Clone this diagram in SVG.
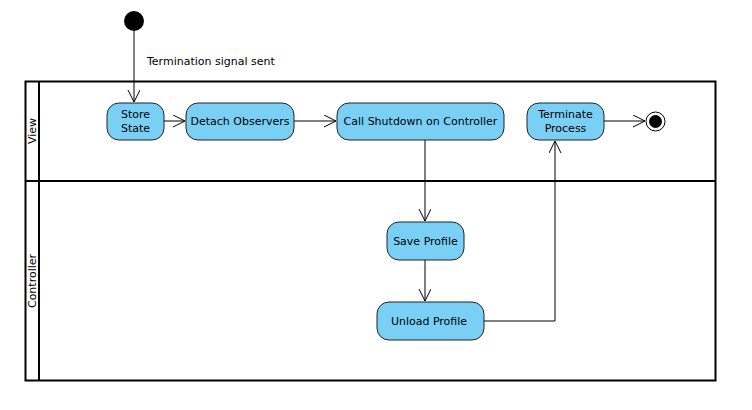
<svg xmlns="http://www.w3.org/2000/svg" width="752" height="410" viewBox="0 0 752 410">
<defs>
<style>
text{font-family:"DejaVu Sans",sans-serif;font-size:11px;fill:#000}
.act{fill:#7acff5;stroke:#222;stroke-width:1}
.c{fill:none;stroke:#000;stroke-width:1}
.lane{fill:none;stroke:#000;stroke-width:2}
</style>
<marker id="a" markerWidth="14" markerHeight="14" refX="12" refY="6" orient="auto" markerUnits="userSpaceOnUse">
<path d="M0,0 L12,6 L0,12" fill="none" stroke="#000" stroke-width="1"/>
</marker>
</defs>
<g id="lanes">
<rect x="25.5" y="81.5" width="690" height="299" class="lane"/>
<line x1="39" y1="81" x2="39" y2="381" class="lane"/>
<line x1="25" y1="181" x2="716" y2="181" class="lane"/>
<text transform="translate(36,131) rotate(-90)" text-anchor="middle">View</text>
<text transform="translate(36,281) rotate(-90)" text-anchor="middle">Controller</text>
</g>
<g id="connectors">
<path d="M134,31 V102" class="c" marker-end="url(#a)"/>
<text x="147" y="65">Termination signal sent</text>
<path d="M164,121 H185" class="c" marker-end="url(#a)"/>
<path d="M294,121 H336" class="c" marker-end="url(#a)"/>
<path d="M425,140 V221" class="c" marker-end="url(#a)"/>
<path d="M425,260 V301" class="c" marker-end="url(#a)"/>
<path d="M484,321 H555 V141" class="c" marker-end="url(#a)"/>
<path d="M604,121 H645" class="c" marker-end="url(#a)"/>
</g>
<g id="start"><circle cx="134" cy="21" r="10" fill="#000"/></g>
<g id="store"><rect x="107" y="103" width="57" height="37" rx="12" class="act"/><text x="135.5" y="118" text-anchor="middle">Store</text><text x="135.5" y="132" text-anchor="middle">State</text></g>
<g id="detach"><rect x="186" y="103" width="108" height="37" rx="12" class="act"/><text x="240" y="125" text-anchor="middle">Detach Observers</text></g>
<g id="shutdown"><rect x="337" y="103" width="167" height="37" rx="12" class="act"/><text x="420.5" y="125" text-anchor="middle">Call Shutdown on Controller</text></g>
<g id="terminate"><rect x="527" y="103" width="77" height="37" rx="12" class="act"/><text x="565.5" y="118" text-anchor="middle">Terminate</text><text x="565.5" y="132" text-anchor="middle">Process</text></g>
<g id="end"><circle cx="655.5" cy="121.5" r="9.5" fill="#fff" stroke="#000"/><circle cx="655.5" cy="121.5" r="6.5" fill="#000"/></g>
<g id="save"><rect x="387" y="222" width="77" height="38" rx="12" class="act"/><text x="425.5" y="245" text-anchor="middle">Save Profile</text></g>
<g id="unload"><rect x="377" y="302" width="107" height="38" rx="12" class="act"/><text x="429" y="325" text-anchor="middle">Unload Profile</text></g>
</svg>
